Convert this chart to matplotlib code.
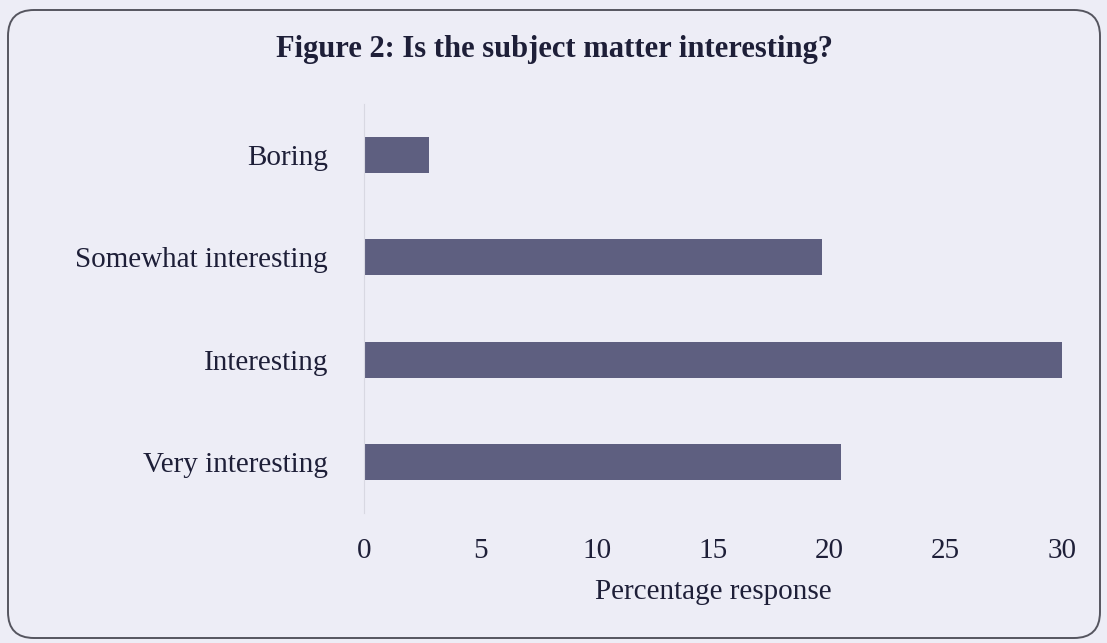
import matplotlib
matplotlib.use("Agg")
import matplotlib.pyplot as plt
from matplotlib.patches import FancyBboxPatch

categories = ["Boring", "Somewhat interesting", "Interesting", "Very interesting"]
values = [2.8, 19.7, 30.0, 20.5]
xticks = [0, 5, 10, 15, 20, 25, 30]

W, H = 1107, 643
fig = plt.figure(figsize=(W / 100, H / 100), dpi=100)
bg = "#EDEDF6"
fig.patch.set_facecolor(bg)

# background frame axis in pixel coordinates
bax = fig.add_axes([0, 0, 1, 1], zorder=-1)
bax.set_xlim(0, W)
bax.set_ylim(H, 0)
bax.axis("off")
border = FancyBboxPatch((8, 10), 1092, 628,
                        boxstyle="round,pad=0,rounding_size=26",
                        facecolor="none", edgecolor="#55555f", linewidth=1.4)
bax.add_patch(border)

left, right = 364, 1062
top, bottom = 104, 513
ax = fig.add_axes([left / W, 1 - bottom / H, (right - left) / W, (bottom - top) / H])
ax.set_facecolor("none")

font = "Liberation Serif"
txt = "#1e1f38"
fs = 21
ax.barh(range(len(categories)), values, height=0.35, color="#5E5F80", edgecolor="none")
ax.set_ylim(len(categories) - 0.5, -0.5)
ax.set_xlim(0, 30)
ax.set_yticks(range(len(categories)))
ax.set_yticklabels(categories, fontfamily=font, fontsize=fs, color=txt)
ax.set_xticks(xticks)
ax.set_xticklabels([str(t) for t in xticks], fontfamily=font, fontsize=fs, color=txt)
ax.tick_params(axis="both", length=0)
ax.tick_params(axis="y", pad=26)
ax.tick_params(axis="x", pad=18)
for s in ["top", "right", "bottom"]:
    ax.spines[s].set_visible(False)
ax.spines["left"].set_color("#d8d8e2")
ax.spines["left"].set_linewidth(0.8)
ax.set_xlabel("Percentage response", fontfamily=font, fontsize=fs, color=txt, labelpad=11)

fig.text(555 / W, 1 - 50 / H, "Figure 2: Is the subject matter interesting?",
         ha="center", va="center", fontfamily=font, fontsize=22, fontweight="bold", color=txt)

fig.savefig("out.png", dpi=100, facecolor=bg)
